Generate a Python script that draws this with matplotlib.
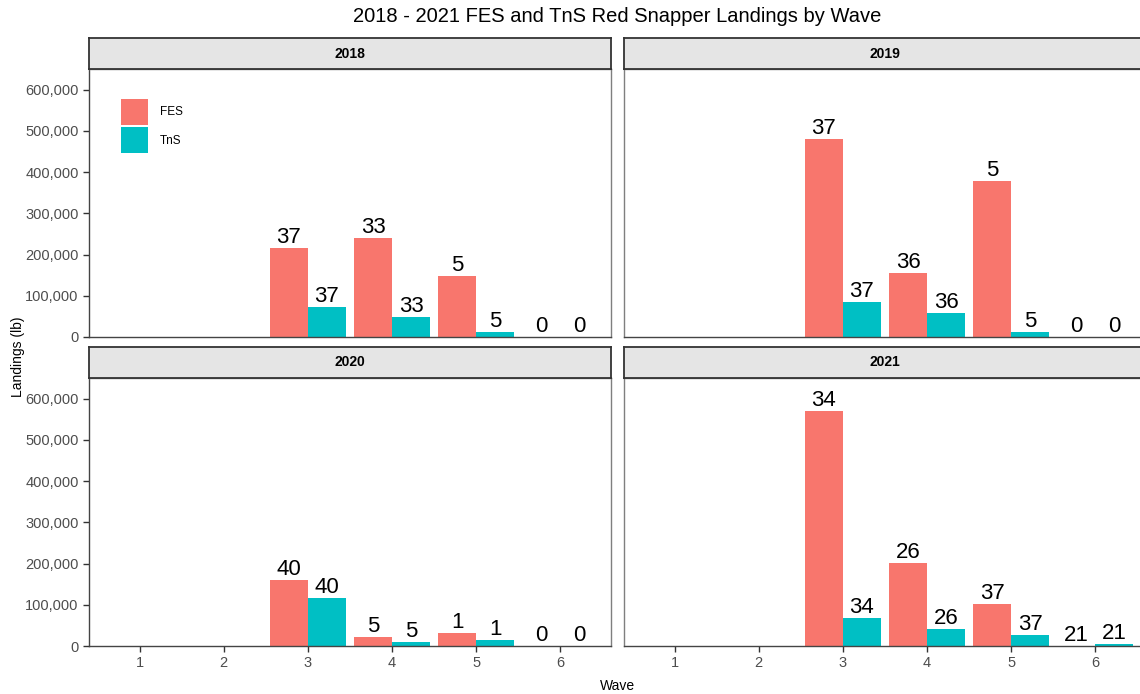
import matplotlib
matplotlib.use("Agg")
import matplotlib.pyplot as plt
from matplotlib.patches import Patch
from matplotlib.ticker import FuncFormatter

plt.rcParams['font.family'] = ['Liberation Sans', 'DejaVu Sans']

years = ["2018", "2019", "2020", "2021"]
waves = [3, 4, 5, 6]
wave_ticks = [1, 2, 3, 4, 5, 6]

fes = {
    "2018": [215000, 240000, 148000, 0],
    "2019": [481000, 156000, 378000, 0],
    "2020": [160000, 23000, 31000, 0],
    "2021": [570000, 201000, 101000, 0],
}
tns = {
    "2018": [73000, 49000, 13000, 0],
    "2019": [84000, 57000, 12000, 0],
    "2020": [116000, 9000, 15000, 0],
    "2021": [69000, 41000, 27000, 4000],
}
n_trips = {
    "2018": [37, 33, 5, 0],
    "2019": [37, 36, 5, 0],
    "2020": [40, 5, 1, 0],
    "2021": [34, 26, 37, 21],
}

fes_col = "#F8766D"
tns_col = "#00BFC4"

W, H = 1140, 694
fig = plt.figure(figsize=(W / 100, H / 100), dpi=100)

# panel boxes in pixels: left, top
boxes = {
    "2018": (89, 69),
    "2019": (624, 69),
    "2020": (89, 378),
    "2021": (624, 378),
}
pw, ph, sh = 522, 268, 31

def fmt(v, pos):
    return "{:,.0f}".format(v)

for yr in years:
    x0, y0 = boxes[yr]
    ax = fig.add_axes([x0 / W, 1 - (y0 + ph) / H, pw / W, ph / H])
    xs_f = [w - 0.225 for w in waves]
    xs_t = [w + 0.225 for w in waves]
    ax.bar(xs_f, fes[yr], width=0.45, color=fes_col, label="FES")
    ax.bar(xs_t, tns[yr], width=0.45, color=tns_col, label="TnS")
    for xf, xt, vf, vt, n in zip(xs_f, xs_t, fes[yr], tns[yr], n_trips[yr]):
        ax.text(xf, vf, str(n), ha="center", va="bottom", fontsize=16)
        ax.text(xt, vt, str(n), ha="center", va="bottom", fontsize=16)
    ax.set_xlim(0.4, 6.6)
    ax.set_ylim(0, 650000)
    ax.set_yticks([0, 100000, 200000, 300000, 400000, 500000, 600000])
    ax.yaxis.set_major_formatter(FuncFormatter(fmt))
    ax.set_xticks(wave_ticks)
    for s in ax.spines.values():
        s.set_color("#7f7f7f")
        s.set_linewidth(1.0)
    ax.spines["bottom"].set_color("#444444")
    ax.tick_params(colors="#333333", labelcolor="#4D4D4D", labelsize=10.5,
                   length=4, width=1)
    if yr in ("2019", "2021"):
        ax.tick_params(axis="y", left=False, labelleft=False)
    else:
        ax.spines["left"].set_color("#444444")
    if yr in ("2018", "2019"):
        ax.tick_params(axis="x", bottom=False, labelbottom=False)

    # strip
    sax = fig.add_axes([x0 / W, 1 - (y0) / H, pw / W, sh / H])
    sax.set_facecolor("#E5E5E5")
    sax.set_xticks([])
    sax.set_yticks([])
    for s in sax.spines.values():
        s.set_color("#333333")
        s.set_linewidth(1.3)
    sax.text(0.5, 0.5, yr, ha="center", va="center", fontsize=10,
             fontweight="bold", transform=sax.transAxes)

    if yr == "2018":
        handles = [Patch(facecolor=fes_col, label="FES"),
                   Patch(facecolor=tns_col, label="TnS")]
        ax.legend(handles=handles, loc="upper left",
                  bbox_to_anchor=(121 / W, 1 - 99 / H),
                  bbox_transform=fig.transFigure, frameon=False,
                  fontsize=8.5, handlelength=2.3, handleheight=3.0,
                  handletextpad=1.0, labelspacing=0.2, borderpad=0,
                  borderaxespad=0)

fig.text(617 / W, 1 - 16 / H, "2018 - 2021 FES and TnS Red Snapper Landings by Wave",
         ha="center", va="center", fontsize=14.5)
fig.text(617 / W, 1 - 686 / H, "Wave", ha="center", va="center", fontsize=10)
fig.text(18 / W, 1 - 357 / H, "Landings (lb)", ha="center", va="center",
         rotation=90, fontsize=10)

fig.savefig("out.png", dpi=100)
